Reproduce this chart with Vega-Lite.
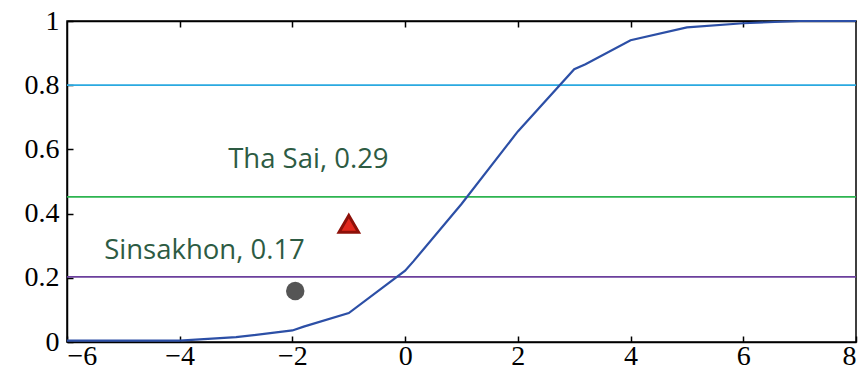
{
  "$schema": "https://vega.github.io/schema/vega-lite/v6.json",
  "width": 789,
  "height": 321,
  "autosize": {"type": "none"},
  "padding": {"left": 67, "top": 21, "right": 2, "bottom": 39},
  "background": "white",
  "config": {
    "view": {"stroke": "black", "strokeWidth": 1.5},
    "axis": {
      "grid": false,
      "domainColor": "black",
      "domainWidth": 1.5,
      "tickColor": "black",
      "tickWidth": 1.5,
      "tickSize": -6,
      "labelFont": "Liberation Serif",
      "labelFontSize": 28,
      "labelColor": "black",
      "title": null
    }
  },
  "datasets": {
    "curve": [
      {"x": -6, "y": 0.004},
      {"x": -4, "y": 0.004},
      {"x": -3, "y": 0.015},
      {"x": -2, "y": 0.036},
      {"x": -1.8, "y": 0.048},
      {"x": -1, "y": 0.09},
      {"x": 0, "y": 0.222},
      {"x": 0.15, "y": 0.252},
      {"x": 1, "y": 0.43},
      {"x": 2, "y": 0.656},
      {"x": 3, "y": 0.85},
      {"x": 3.2, "y": 0.865},
      {"x": 4, "y": 0.94},
      {"x": 5, "y": 0.98},
      {"x": 6, "y": 0.993},
      {"x": 7, "y": 1.0},
      {"x": 8, "y": 1.0}
    ],
    "hlines": [
      {"x": -6, "y": 0.8, "series": "cyan"},
      {"x": 8, "y": 0.8, "series": "cyan"},
      {"x": -6, "y": 0.452, "series": "green"},
      {"x": 8, "y": 0.452, "series": "green"},
      {"x": -6, "y": 0.203, "series": "purple"},
      {"x": 8, "y": 0.203, "series": "purple"}
    ],
    "points": [
      {"x": -1, "y": 0.368, "site": "Tha Sai"},
      {"x": -1.95, "y": 0.159, "site": "Sinsakhon"}
    ],
    "labels": [
      {"x": -3.14, "y": 0.567, "text": "Tha Sai, 0.29"},
      {"x": -5.34, "y": 0.285, "text": "Sinsakhon, 0.17"}
    ]
  },
  "layer": [
    {
      "data": {"name": "hlines"},
      "mark": {"type": "line", "strokeWidth": 1.8},
      "encoding": {
        "x": {"field": "x", "type": "quantitative", "scale": {"domain": [-6, 8], "nice": false},
          "axis": {"values": [-6, -4, -2, 0, 2, 4, 6, 8], "format": "d", "labelPadding": 6, "orient": "bottom"}},
        "y": {"field": "y", "type": "quantitative", "scale": {"domain": [0, 1], "nice": false},
          "axis": {"values": [0, 0.2, 0.4, 0.6, 0.8, 1], "format": ".1~f", "labelPadding": 14}},
        "color": {"field": "series", "type": "nominal",
          "scale": {"domain": ["cyan", "green", "purple"], "range": ["#2aa9e0", "#2db450", "#6b3f9c"]},
          "legend": null}
      }
    },
    {
      "data": {"name": "curve"},
      "mark": {"type": "line", "color": "#2c4fa6", "strokeWidth": 2.2},
      "encoding": {
        "x": {"field": "x", "type": "quantitative",
          "axis": {"orient": "top", "values": [-4, -2, 0, 2, 4, 6], "labels": false, "domain": true, "tickSize": -6}},
        "y": {"field": "y", "type": "quantitative"}
      }
    },
    {
      "data": {"name": "points"},
      "transform": [{"filter": "datum.site == 'Tha Sai'"}],
      "mark": {"type": "point", "shape": "triangle-up", "filled": true, "size": 380, "fill": "#e2281d", "stroke": "#8e1009", "strokeWidth": 3, "opacity": 1},
      "encoding": {
        "x": {"field": "x", "type": "quantitative", "axis": null},
        "y": {"field": "y", "type": "quantitative"}
      }
    },
    {
      "data": {"name": "points"},
      "transform": [{"filter": "datum.site == 'Sinsakhon'"}],
      "mark": {"type": "circle", "size": 340, "color": "#555555", "opacity": 1},
      "encoding": {
        "x": {"field": "x", "type": "quantitative", "axis": null},
        "y": {"field": "y", "type": "quantitative"}
      }
    },
    {
      "data": {"name": "labels"},
      "mark": {"type": "text", "align": "left", "baseline": "middle", "font": "Open Sans", "fontSize": 27.5, "color": "#2d5b43"},
      "encoding": {
        "x": {"field": "x", "type": "quantitative", "axis": null},
        "y": {"field": "y", "type": "quantitative"},
        "text": {"field": "text"}
      }
    }
  ],
  "resolve": {"axis": {"x": "independent"}}
}
